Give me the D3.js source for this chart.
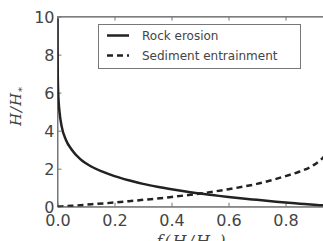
<!DOCTYPE html>
<html><head><meta charset="utf-8">
<script src="https://cdn.jsdelivr.net/npm/d3@7"></script>
<style>body{margin:0;background:#fff}svg{display:block}</style>
</head><body>
<script>
const fValues = [0.00005,0.0002,0.001,0.003,0.007,0.015,0.03,0.05,0.08,0.12,0.16,0.2,0.25,0.3,0.35,0.4,0.45,0.5,0.55,0.6,0.65,0.7,0.75,0.8,0.85,0.9,0.93,0.96];
const rockErosion = [9.9,8.5,6.9,5.8,5.0,4.2,3.5,3.0,2.5,2.1,1.83,1.61,1.39,1.2,1.05,0.92,0.8,0.69,0.6,0.51,0.43,0.36,0.29,0.22,0.16,0.1,0.07,0.04];
const sedimentEntrainment = [0.00005,0.0002,0.001,0.003,0.007,0.015,0.03,0.05,0.08,0.13,0.17,0.22,0.29,0.36,0.43,0.51,0.6,0.69,0.8,0.92,1.05,1.2,1.39,1.61,1.85,2.2,2.55,3.0];
const xTicks = [0.0,0.2,0.4,0.6,0.8];
const yTicks = [0,2,4,6,8,10];
const seriesNames = ["Rock erosion","Sediment entrainment"];

const W=323,H=241;
const svg=d3.select("body").append("svg").attr("width",W).attr("height",H);
const x=d3.scaleLinear().domain([0,1]).range([57.5,342.5]);
const y=d3.scaleLinear().domain([0,10]).range([206.7,16.6]);
const axisCol="#777", textCol="#444";

svg.append("defs").append("clipPath").attr("id","clip")
  .append("rect").attr("x",x(0)).attr("y",y(10)).attr("width",x(1)-x(0)).attr("height",y(0)-y(10));

// frame
svg.append("rect").attr("x",x(0)).attr("y",y(10)).attr("width",x(1)-x(0)).attr("height",y(0)-y(10))
  .attr("fill","none").attr("stroke",axisCol).attr("stroke-width",1);

// axes
const xb=svg.append("g").attr("transform",`translate(0,${y(0)})`)
  .call(d3.axisBottom(x).tickValues(xTicks).tickFormat(d3.format(".1f")).tickSizeInner(-4).tickSizeOuter(0).tickPadding(8));
const xt=svg.append("g").attr("transform",`translate(0,${y(10)})`)
  .call(d3.axisTop(x).tickValues(xTicks).tickFormat("").tickSizeInner(-4).tickSizeOuter(0));
const yl=svg.append("g").attr("transform",`translate(${x(0)},0)`)
  .call(d3.axisLeft(y).tickValues(yTicks).tickFormat(d3.format("d")).tickSizeInner(-4).tickSizeOuter(0).tickPadding(3));
[xb,xt,yl].forEach(g=>{
  g.select(".domain").attr("stroke",axisCol);
  g.selectAll(".tick line").attr("stroke",axisCol);
  g.selectAll("text").attr("fill",textCol).attr("font-family","DejaVu Sans").attr("font-size",16);
});
yl.selectAll("text").attr("dy","0.36em");

const line=d3.line().x(d=>x(d[0])).y(d=>y(d[1])).curve(d3.curveMonotoneX);
const plot=svg.append("g").attr("clip-path","url(#clip)");
plot.append("path").datum(fValues.map((f,i)=>[f,rockErosion[i]]))
  .attr("d",line).attr("fill","none").attr("stroke","#222").attr("stroke-width",2.5);
plot.append("path").datum(fValues.map((f,i)=>[f,sedimentEntrainment[i]]))
  .attr("d",line).attr("fill","none").attr("stroke","#222").attr("stroke-width",2.5).attr("stroke-dasharray","6,4");

// legend
const lg=svg.append("g");
lg.append("rect").attr("x",98.5).attr("y",24.5).attr("width",202).attr("height",44)
  .attr("fill","#fff").attr("stroke","#777").attr("stroke-width",1);
seriesNames.forEach((n,i)=>{
  const yy=35.5+i*20;
  lg.append("line").attr("x1",107).attr("x2",129).attr("y1",yy).attr("y2",yy)
    .attr("stroke","#222").attr("stroke-width",2.5).attr("stroke-dasharray",i?"6,4":null);
  lg.append("text").attr("x",142).attr("y",yy).attr("dy","0.35em").text(n)
    .attr("font-family","DejaVu Sans").attr("font-size",12).attr("fill",textCol);
});

// axis labels
const yLab=svg.append("text").attr("transform","translate(21,106) rotate(-90)").attr("text-anchor","middle")
  .attr("font-family","DejaVu Serif").attr("font-style","italic").attr("font-size",15).attr("fill",textCol)
  .attr("letter-spacing",1);
yLab.append("tspan").text("H/H");
yLab.append("tspan").attr("font-size",10).attr("dy",4).text("*");
const xLab=svg.append("text").attr("x",192).attr("y",247).attr("text-anchor","middle")
  .attr("font-family","DejaVu Serif").attr("font-style","italic").attr("font-size",16).attr("fill",textCol)
  .attr("letter-spacing",2);
xLab.append("tspan").text("f(H/H");
xLab.append("tspan").attr("font-size",11).attr("dy",4).text("*");
xLab.append("tspan").attr("dy",-4).text(")");
</script>
</body></html>
